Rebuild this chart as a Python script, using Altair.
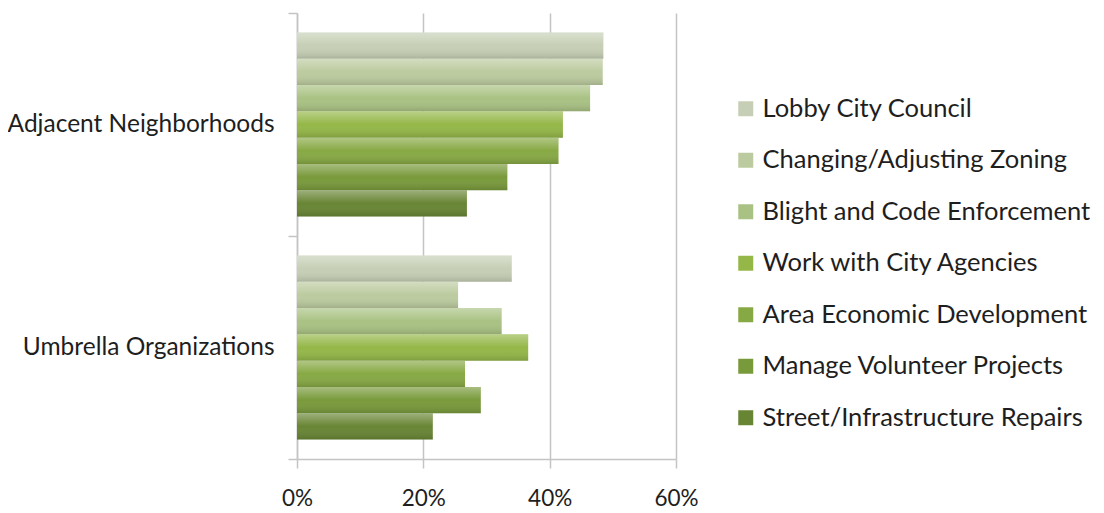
import altair as alt
import pandas as pd

groups = ["Adjacent Neighborhoods", "Umbrella Organizations"]
series = [
    "Lobby City Council",
    "Changing/Adjusting Zoning",
    "Blight and Code Enforcement",
    "Work with City Agencies",
    "Area Economic Development",
    "Manage Volunteer Projects",
    "Street/Infrastructure Repairs",
]
adjacent = [0.485, 0.484, 0.464, 0.421, 0.414, 0.333, 0.269]
umbrella = [0.340, 0.255, 0.324, 0.366, 0.266, 0.291, 0.215]
colors = ["#c6cfb5", "#bccb9f", "#a9c283", "#94b748", "#87a944", "#799a3b", "#688534"]
x_ticks = [0, 0.2, 0.4, 0.6]

rows = []
for g, vals in zip(groups, [adjacent, umbrella]):
    for s, v in zip(series, vals):
        rows.append({"group": g, "series": s, "value": v})
df = pd.DataFrame(rows)

FONT = "Lato"
TXT = "#1e1e1e"
GRID = "#c4c4c4"

x_enc = alt.X(
    "value:Q",
    scale=alt.Scale(domain=[0, 0.6], nice=False, zero=True),
    axis=alt.Axis(
        values=x_ticks, format="%", title=None, grid=True, gridColor=GRID,
        gridWidth=1.5, domainColor=GRID, domainWidth=1.5, tickColor=GRID,
        tickWidth=1.5, tickSize=9, labelFontSize=22.5, labelFont=FONT, labelColor=TXT,
        labelPadding=19, labelFlush=False,
    ),
)
y_enc = alt.Y(
    "group:N",
    sort=groups,
    scale=alt.Scale(paddingInner=0, paddingOuter=0),
    axis=alt.Axis(
        title=None, tickBand="extent", domainColor=GRID, domainWidth=1.5,
        tickColor=GRID, tickWidth=1.5, tickSize=9, labelFontSize=24.5, labelFont=FONT,
        labelColor=TXT, labelPadding=14, grid=False, labelLimit=400,
    ),
)
yoff = alt.YOffset("series:N", sort=series, scale=alt.Scale(paddingInner=0, paddingOuter=0.74))

base = alt.Chart(df)

bars = base.mark_bar(cornerRadius=0).encode(
    x=x_enc,
    y=y_enc,
    yOffset=yoff,
    color=alt.Color(
        "series:N",
        sort=series,
        scale=alt.Scale(domain=series, range=colors),
        legend=alt.Legend(
            title=None, orient="none", legendX=436, legendY=83, symbolType="square",
            symbolSize=225, symbolStrokeWidth=0, labelFontSize=25.5, labelFont=FONT,
            labelColor=TXT, rowPadding=24.5, labelOffset=4, labelLimit=500,
        ),
    ),
)

shade = base.mark_bar(
    color=alt.Gradient(
        gradient="linear",
        stops=[
            alt.GradientStop(color="rgba(255,255,255,0.35)", offset=0),
            alt.GradientStop(color="rgba(255,255,255,0.0)", offset=0.5),
            alt.GradientStop(color="rgba(0,0,0,0.14)", offset=1),
        ],
        x1=0, x2=0, y1=0, y2=1,
    )
).encode(x="value:Q", y=alt.Y("group:N", sort=groups), yOffset=yoff)

chart = (
    alt.layer(bars, shade)
    .properties(
        width=379, height=446,
        autosize=alt.AutoSizeParams(type="none"),
        padding={"left": 289, "top": 5, "right": 420, "bottom": 52},
    )
    .configure_view(stroke=None)
)

chart.save("out.html", embed_options={"renderer": "svg", "actions": False})
